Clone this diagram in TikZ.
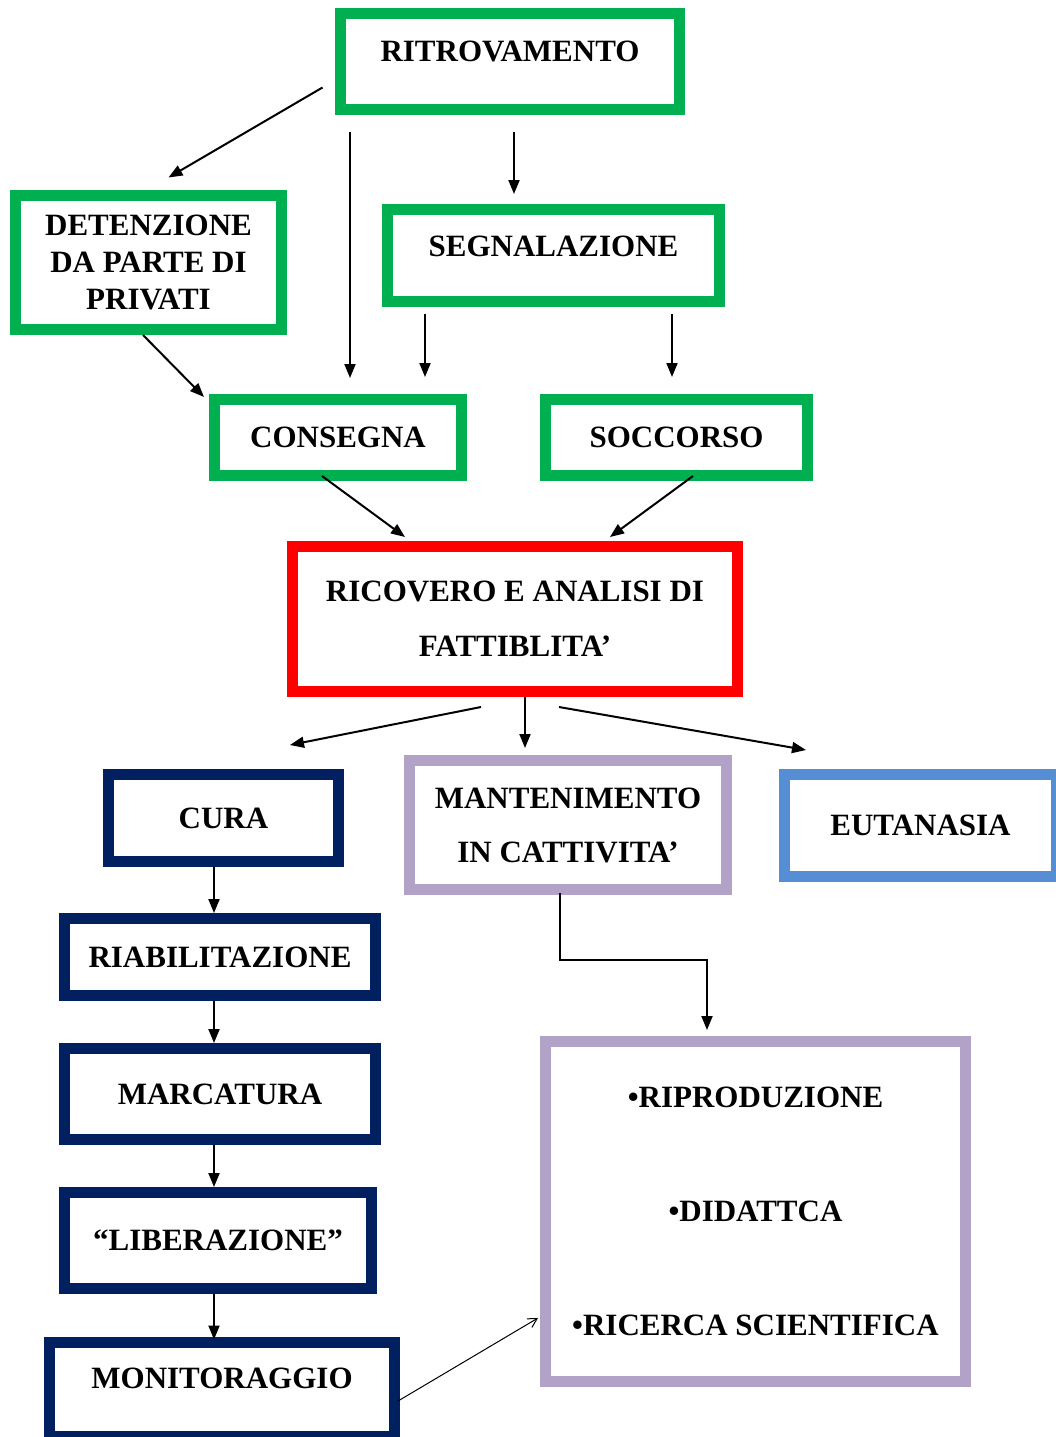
\documentclass[tikz,border=0pt]{standalone}
\usepackage{fontspec}
\setmainfont{Liberation Serif}
\usetikzlibrary{arrows.meta}
\definecolor{boxgreen}{HTML}{00B050}
\definecolor{boxred}{HTML}{FF0000}
\definecolor{boxnavy}{HTML}{002060}
\definecolor{boxlilac}{HTML}{B3A2C7}
\definecolor{boxblue}{HTML}{558ED5}
\tikzset{
  flowbox/.style={draw,line width=11pt,fill=white,align=center,inner sep=0pt,outer sep=0pt,
    font=\fontsize{31}{37}\selectfont\bfseries},
  greenbox/.style={flowbox,draw=boxgreen},
  redbox/.style={flowbox,draw=boxred},
  navybox/.style={flowbox,draw=boxnavy},
  lilacbox/.style={flowbox,draw=boxlilac},
  bluebox/.style={flowbox,draw=boxblue},
  arr/.style={line width=2pt,-{Triangle[length=14pt,width=11pt]}},
  thinarr/.style={line width=1pt,-{Straight Barb[length=9pt,width=10pt]}}
}
\begin{document}
\begin{tikzpicture}[x=1pt,y=-1pt]
  \useasboundingbox[fill=white] (0,0) rectangle (1055,1437);
  % top part
  \node[greenbox,minimum width=339,minimum height=96,text depth=20pt] (ritr) at (510,61.5) {RITROVAMENTO};
  \node[greenbox,minimum width=266,minimum height=134] (deten) at (148.5,262.5) {DETENZIONE\\DA PARTE DI\\PRIVATI};
  \node[greenbox,minimum width=332,minimum height=92,text depth=18pt] (segn) at (553.5,255.5) {SEGNALAZIONE};
  \node[greenbox,minimum width=247,minimum height=76] (cons) at (338,437.5) {CONSEGNA};
  \node[greenbox,minimum width=262,minimum height=76] (socc) at (676.5,437.5) {SOCCORSO};
  \node[redbox,minimum width=445,minimum height=145] (ricov) at (515,619) {RICOVERO E ANALISI DI\\[18pt]FATTIBLITA’};
  % outcomes
  \node[navybox,minimum width=230,minimum height=87] (cura) at (223.5,818) {CURA};
  \node[lilacbox,minimum width=317,minimum height=129] (mant) at (568,825) {MANTENIMENTO\\[17pt]IN CATTIVITA’};
  \node[bluebox,minimum width=272,minimum height=102] (euta) at (920.5,825.5) {EUTANASIA};
  \node[navybox,minimum width=311,minimum height=77] (riab) at (220,957) {RIABILITAZIONE};
  \node[navybox,minimum width=311,minimum height=91] (marc) at (220,1094) {MARCATURA};
  \node[navybox,minimum width=307,minimum height=96] (lib) at (218,1240.5) {“LIBERAZIONE”};
  \node[navybox,minimum width=345,minimum height=94,text depth=22pt] (monit) at (222,1389.5) {MONITORAGGIO};
  \node[lilacbox,minimum width=420,minimum height=340] (usi) at (755.5,1211.5) {•RIPRODUZIONE\\[77pt]•DIDATTCA\\[77pt]•RICERCA SCIENTIFICA};
  % connectors
  \draw[arr] ([shift={(-18,26)}]ritr.west) -- ([shift={(20,-18)}]deten.north);
  \draw[arr] ([shift={(-160,22.5)}]ritr.south) -- ([shift={(12,-21.5)}]cons.north);
  \draw[arr] ([shift={(4,22.5)}]ritr.south) -- ([shift={(-39.5,-15.5)}]segn.north);
  \draw[arr] ([shift={(-128.5,12.5)}]segn.south) -- ([shift={(87,-22.5)}]cons.north);
  \draw[arr] ([shift={(118.5,12.5)}]segn.south) -- ([shift={(-4.5,-22.5)}]socc.north);
  \draw[arr] ([shift={(-5.5,5.5)}]deten.south) -- ([shift={(-10.5,-40.5)}]cons.west);
  \draw[arr] ([shift={(-16,0.5)}]cons.south) -- ([shift={(-110,-9.5)}]ricov.north);
  \draw[arr] ([shift={(16.5,0.5)}]socc.south) -- ([shift={(95,-9.5)}]ricov.north);
  \draw[arr] ([shift={(-34,15.5)}]ricov.south) -- ([shift={(66.5,-29.5)}]cura.north);
  \draw[arr] ([shift={(10,5.5)}]ricov.south) -- ([shift={(-43,-12.5)}]mant.north);
  \draw[arr] ([shift={(44,15.5)}]ricov.south) -- ([shift={(-114.5,-24.5)}]euta.north);
  \draw[arr] ([shift={(-9.5,5.5)}]cura.south) -- ([shift={(-6,-5.5)}]riab.north);
  \draw[arr] ([shift={(-6,5.5)}]riab.south) -- ([shift={(-6,-5.5)}]marc.north);
  \draw[arr] ([shift={(-6,5.5)}]marc.south) -- ([shift={(-4,-5.5)}]lib.north);
  \draw[arr] ([shift={(-4,5.5)}]lib.south) -- ([shift={(-8,-3)}]monit.north);
  \draw[arr] ([shift={(-8,3.5)}]mant.south) -- ++(0,67) -| ([shift={(-48.5,-11.5)}]usi.north);
  \draw[thinarr] ([shift={(3.5,11.5)}]monit.east) -- ([shift={(-7.5,106.5)}]usi.west);
\end{tikzpicture}
\end{document}
